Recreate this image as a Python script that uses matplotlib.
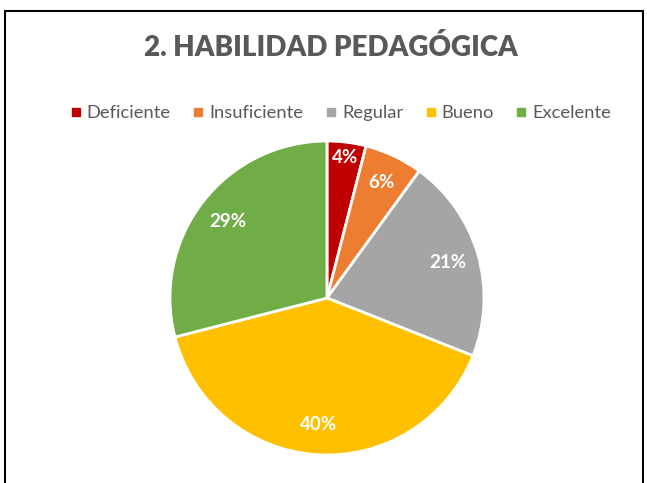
import matplotlib
matplotlib.use("Agg")
import matplotlib.pyplot as plt
from matplotlib.patches import Rectangle
from matplotlib.lines import Line2D
import numpy as np

# datos
categorias = ["Deficiente", "Insuficiente", "Regular", "Bueno", "Excelente"]
porcentajes = [4, 6, 21, 40, 29]
colores = ["#C00000", "#ED7D31", "#A5A5A5", "#FFC000", "#70AD47"]
dist_etiqueta = [0.9, 0.81, 0.8, 0.81, 0.8]

plt.rcParams["font.family"] = ["Lato", "DejaVu Sans"]

fig = plt.figure(figsize=(6.47, 4.83), dpi=100)
fig.patch.set_facecolor("white")

# marco del gráfico
fig.add_artist(Rectangle((5/647, -0.05), 638/647, 1.05 - 11/483, transform=fig.transFigure,
                         fill=False, edgecolor="black", lw=1.5))

# pie centrado en (327, 298) px, radio ~157 px
cx, cy, r = 327/647, 1 - 298/483, 157
ax = fig.add_axes([cx - r/647, cy - r/483, 2*r/647, 2*r/483])
wedges, _ = ax.pie(porcentajes, colors=colores, startangle=90, counterclock=False,
                   wedgeprops=dict(edgecolor="white", linewidth=2))
ax.set_aspect("equal")
ax.set_xlim(-1, 1); ax.set_ylim(-1, 1)

acum = np.cumsum([0] + porcentajes)
for i, p in enumerate(porcentajes):
    medio = (acum[i] + acum[i+1]) / 2 / 100 * 2*np.pi
    x = dist_etiqueta[i] * np.sin(medio)
    y = dist_etiqueta[i] * np.cos(medio)
    ax.text(x, y, f"{p}%", ha="center", va="center", color="white",
            fontsize=13.5, fontweight="bold")

fig.text(331/647, 1 - 48/483, "2. HABILIDAD PEDAGÓGICA", ha="center", va="center",
         fontsize=20, fontweight="heavy", color="#595959")

handles = [Line2D([], [], marker="s", ls="", color=c, markersize=6) for c in colores]
fig.legend(handles, categorias, loc="center", bbox_to_anchor=(339/647, 1 - 113/483),
           ncol=5, frameon=False, fontsize=13.2, handletextpad=0.1, columnspacing=1.0,
           labelcolor="#595959", handlelength=1.0)

fig.savefig("out.png", dpi=100)
